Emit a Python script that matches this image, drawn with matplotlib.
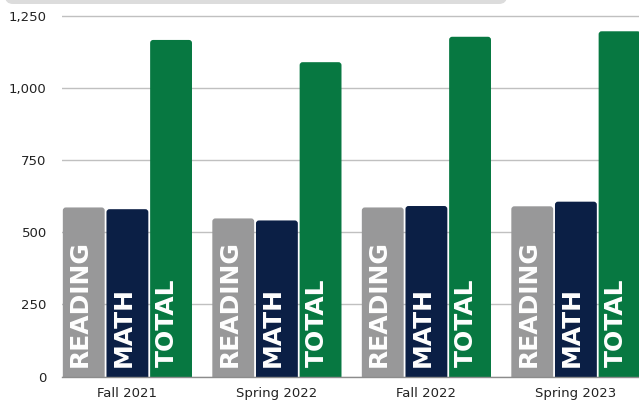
import matplotlib
matplotlib.use("Agg")
import matplotlib.pyplot as plt
from matplotlib.patches import FancyBboxPatch
from matplotlib.transforms import IdentityTransform
import numpy as np


terms = ["Fall 2021", "Spring 2022", "Fall 2022", "Spring 2023"]
series = ["READING", "MATH", "TOTAL"]
reading = [586, 548, 586, 590]
math_scores = [580, 541, 591, 606]
total = [1166, 1089, 1177, 1196]
y_ticks = [0, 250, 500, 750, 1000, 1250]

colors = ["#989899", "#0b1f45", "#077841"]

fig = plt.figure(figsize=(6.39, 4.0), dpi=100)
ax = fig.add_axes([62 / 639, 23.3 / 400, 1 - 62 / 639, (376.7 - 5) / 400])

x = np.arange(len(terms))
step = 0.292
width = 0.28
values = [reading, math_scores, total]

# rounded tops: px -> data aspect
radius = 3 / 149.5
aspect = 149.5 / 0.2888

for i, (name, vals, col) in enumerate(zip(series, values, colors)):
    bars = ax.bar(x + (i - 1) * step, vals, width, color=col)
    for b in bars:
        bx, bw, bh = b.get_x(), b.get_width(), b.get_height()
        b.remove()
        rp = FancyBboxPatch((bx, -30), bw, bh + 30,
                            boxstyle=f"round,pad=0,rounding_size={radius}",
                            mutation_aspect=aspect, facecolor=col,
                            edgecolor="none", zorder=2)
        ax.add_patch(rp)
        ax.text(bx + bw / 2 + 0.022, 32, name, rotation=90,
                rotation_mode="anchor", ha="left", va="baseline",
                color="white", fontsize=18, fontweight="bold",
                zorder=3)

ax.set_xlim(-0.4375, 3.422)
ax.set_ylim(0, 1287)
ax.set_yticks(y_ticks)
ax.set_yticklabels([f"{v:,}" for v in y_ticks])
ax.set_xticks(x)
ax.set_xticklabels(terms)

ax.grid(axis="y", color="#c0c0c0", linewidth=1)
ax.set_axisbelow(True)
for s in ["top", "right", "left"]:
    ax.spines[s].set_visible(False)
ax.spines["bottom"].set_color("#8c8c8c")
ax.spines["bottom"].set_linewidth(1)
ax.tick_params(axis="both", length=0, labelsize=9.5, labelcolor="#222222")
ax.tick_params(axis="y", pad=11)
ax.tick_params(axis="x", pad=7.5)

# light grey box peeking in at the top
box = FancyBboxPatch((5, 396), 502, 30,
                     boxstyle="round,pad=0,rounding_size=8",
                     transform=IdentityTransform(), facecolor="#dcdcdc",
                     edgecolor="none")
fig.patches.append(box)

fig.savefig("out.png", dpi=100)
